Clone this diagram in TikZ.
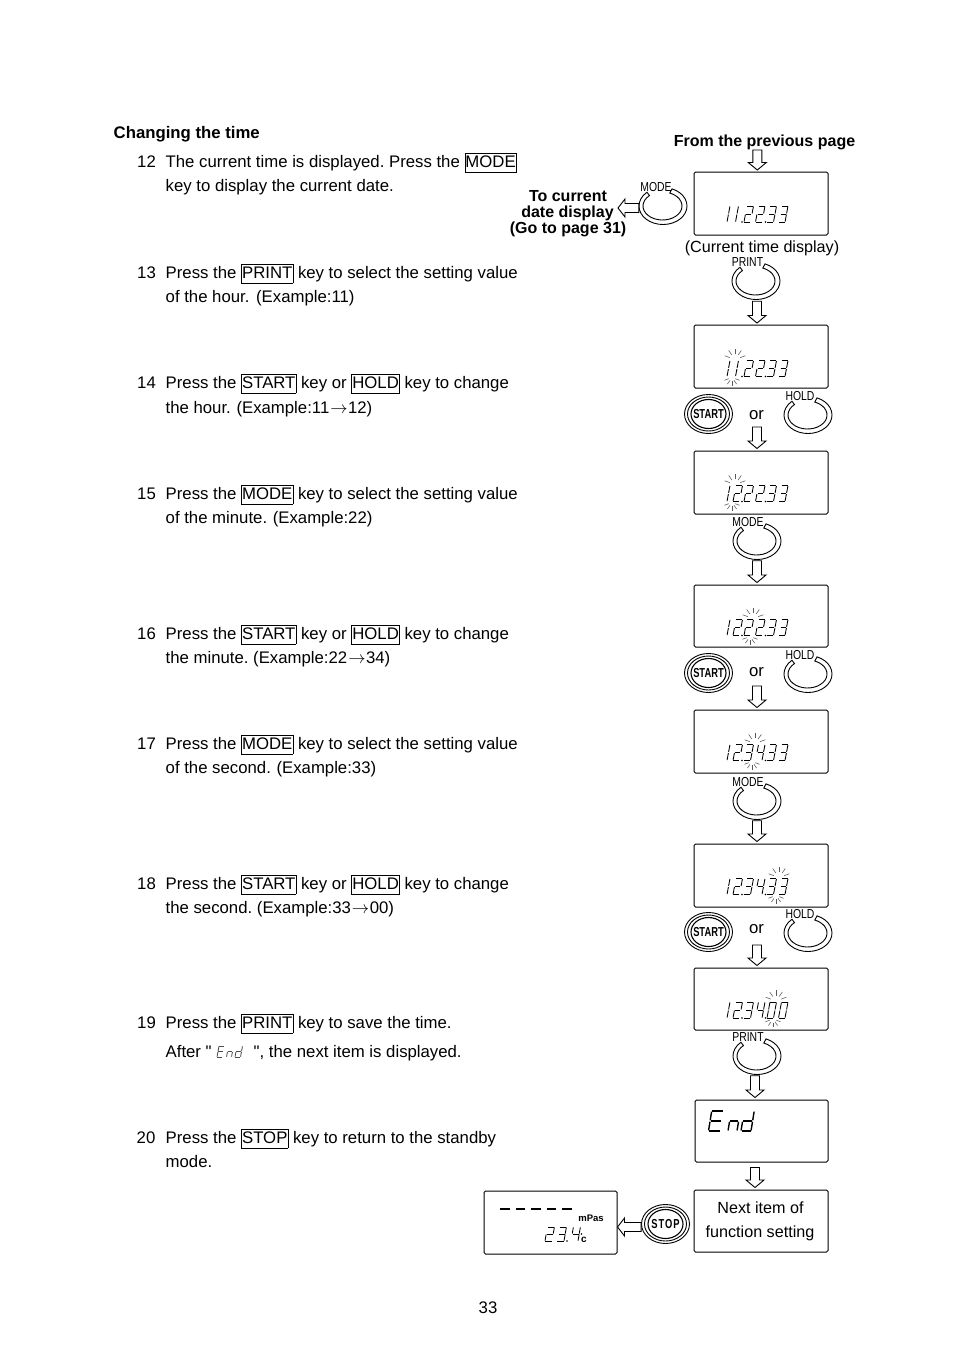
\documentclass[tikz,border=0pt]{standalone}
\usepackage{fontspec}
\setmainfont{Liberation Sans}
\newfontfamily\qfont{Liberation Sans}
\usetikzlibrary{calc,shapes.geometric}
\newcommand\bodyfont{\fontsize{16.75}{20}\selectfont\frenchspacing}
\newcommand\smallbody{\fontsize{16.15}{20}\selectfont\frenchspacing}
\newcommand\lblfont{\fontsize{16}{18}\selectfont\bfseries\frenchspacing}
\newcommand\keybox[1]{{\setlength\fboxsep{0.2pt}\setlength\fboxrule{0.8pt}\fbox{\rule[-4.5pt]{0pt}{18pt}#1}}}
\newcommand\arr{\kern1pt$\rightarrow$\kern0.5pt}
\def\seglw{0.85pt}
\tikzset{
  line/.style={anchor=base west,inner sep=0pt,font=\bodyfont},
  lbl/.style={anchor=base,inner sep=0pt,font=\lblfont},
  plain/.style={anchor=base,inner sep=0pt,font=\bodyfont},
  plainsmall/.style={anchor=base,inner sep=0pt,font=\smallbody},
  panel/.style={draw,line width=1pt,rounded corners=1.5pt,fill=white,anchor=north west,inner sep=0pt},
  block/.style={draw,line width=0.9pt,fill=white,line join=miter},
  ringband/.style={draw,line width=0.9pt,fill=white},
  seg/.style={line width=\seglw},
  ray/.style={line width=0.55pt,black!65},
  keylabel/.style={inner sep=0pt,font=\fontsize{13}{14}\selectfont},
}
% seven-segment parts
\def\sa{\draw[seg] (0.05,2)--(0.95,2);}
\def\sb{\draw[seg] (1,1.94)--(1,1.07);}
\def\sc{\draw[seg] (1,0.93)--(1,0.06);}
\def\sd{\draw[seg] (0.05,0)--(0.95,0);}
\def\se{\draw[seg] (0,0.06)--(0,0.93);}
\def\sf{\draw[seg] (0,1.07)--(0,1.94);}
\def\sg{\draw[seg] (0.08,1)--(0.92,1);}
\expandafter\def\csname dig0\endcsname{\sa\sb\sc\sd\se\sf}
\expandafter\def\csname dig1\endcsname{\sb\sc}
\expandafter\def\csname dig2\endcsname{\sa\sb\sg\se\sd}
\expandafter\def\csname dig3\endcsname{\sa\sb\sg\sc\sd}
\expandafter\def\csname dig4\endcsname{\sf\sg\sb\sc}
\expandafter\def\csname digE\endcsname{\sa\sf\sg\se\sd}
\expandafter\def\csname dign\endcsname{\se\sg\sc}
\expandafter\def\csname digd\endcsname{\sb\sc\sd\se\sg}
% \glyph{x}{baseline}{width}{half height}{slant per half}{char}
\newcommand\glyph[6]{\begin{scope}[shift={(#1,-#2)},x={(#3pt,0pt)},y={(#5pt,#4pt)}]\csname dig#6\endcsname\end{scope}}
\newcommand\dotat[2]{\fill (#1,-#2) circle[radius=0.8];}
\newcommand\cg[3]{\glyph{#1}{#2}{6.5}{8}{1.5}{#3}}
% clock readout: baseline, x of 2nd digit, six chars
\newcommand\clock[8]{%
  \cg{720.5}{#1}{#3}\cg{#2}{#1}{#4}\dotat{742}{#1}%
  \cg{744}{#1}{#5}\cg{755.5}{#1}{#6}\dotat{765.5}{#1}%
  \cg{767}{#1}{#7}\cg{778.5}{#1}{#8}}
\newcommand\blink[3]{%
  \begin{scope}[shift={(#1,-#3+17)}]
    \foreach \t in {20,55,90,125,160}{\draw[ray] (\t:5.5)--(\t:11);}
  \end{scope}
  \begin{scope}[shift={(#2,-#3-1)}]
    \foreach \t in {200,235,270,305,340}{\draw[ray] (\t:3.5)--(\t:8);}
  \end{scope}}
% hollow arrows: \vblock{from}{to}{x}{gap from}{gap to}
\newcommand\vblock[5]{%
  \coordinate (tA) at ($(#3,0 |- #1)+(0,-#4)$);
  \coordinate (tB) at ($(#3,0 |- #2)+(0,#5)$);
  \draw[block] ($(tA)+(-4.5,0)$) -- ($(tB)+(-4.5,7.5)$) -- ($(tB)+(-9,7.5)$) -- (tB) -- ($(tB)+(9,7.5)$) -- ($(tB)+(4.5,7.5)$) -- ($(tA)+(4.5,0)$) -- cycle;}
\newcommand\hblock[3]{%
  \coordinate (tA) at (#1 |- 0,-#3);
  \coordinate (tB) at (#2 |- 0,-#3);
  \draw[block] ($(tA)+(0,4.5)$) -- ($(tB)+(7,4.5)$) -- ($(tB)+(7,9)$) -- (tB) -- ($(tB)+(7,-9)$) -- ($(tB)+(7,-4.5)$) -- ($(tA)+(0,-4.5)$) -- cycle;}
% press key ring: name, x, y, label, label dx
\newcommand\pressring[5]{%
  \node[ellipse,minimum width=48pt,minimum height=37pt,inner sep=0pt] (#1) at (#2,-#3) {};
  \draw[ringband] ($(#1.center)+(68:24 and 18.5)$) arc[start angle=68,end angle=-228,x radius=24,y radius=18.5]
     -- ($(#1.center)+(-0.5,0)+(-228:19.5 and 14)$) arc[start angle=-228,end angle=68,x radius=19.5,y radius=14] -- cycle;
  \node[keylabel,xscale=0.8] (#1l) at (#2-#5,-#3+18.5) {#4};}
% solid key: name, x, y, label, extra font setting, xscale
\newcommand\solidkey[6]{%
  \node[ellipse,draw,line width=0.9pt,minimum width=48pt,minimum height=39pt,inner sep=0pt] (#1) at (#2,-#3) {};
  \node[ellipse,draw,line width=0.9pt,minimum width=42pt,minimum height=34pt,inner sep=0pt] (#1m) at (#2,-#3) {};
  \node[ellipse,draw,line width=1.1pt,minimum width=35pt,minimum height=29pt,inner sep=0pt] (#1i) at (#2,-#3) {};
  \node[inner sep=0pt,xscale=#6,font=\fontsize{13}{15}\selectfont\bfseries#5] (#1t) at (#2,-#3) {#4};}
\begin{document}
\begin{tikzpicture}[x=1pt,y=1pt]
\useasboundingbox (0,0) rectangle (954,-1350);
\fill[white] (0,0) rectangle (954,-1350);

% left column text
\node[line,font=\bodyfont\bfseries] (head) at (113.5,-138) {Changing the time};
\node[line] (n12) at (137,-167) {12};
\node[line] (s12a) at (165.5,-167) {The current time is displayed. Press the \keybox{MODE}};
\node[line] (s12b) at (165.5,-191) {key to display the current date.};
\node[line] (n13) at (137,-278) {13};
\node[line] (s13a) at (165.5,-278) {Press the \keybox{PRINT} key to select the setting value};
\node[line] (s13b) at (165.5,-302) {of the hour.\kern2pt{} (Example:11)};
\node[line] (n14) at (137,-388) {14};
\node[line] (s14a) at (165.5,-388) {Press the \keybox{START} key or \keybox{HOLD} key to change};
\node[line] (s14b) at (165.5,-413) {the hour.\kern1pt{} (Example:11\arr12)};
\node[line] (n15) at (137,-499) {15};
\node[line] (s15a) at (165.5,-499) {Press the \keybox{MODE} key to select the setting value};
\node[line] (s15b) at (165.5,-523) {of the minute.\kern1pt{} (Example:22)};
\node[line] (n16) at (137,-639) {16};
\node[line] (s16a) at (165.5,-639) {Press the \keybox{START} key or \keybox{HOLD} key to change};
\node[line] (s16b) at (165.5,-663) {the minute. (Example:22\arr34)};
\node[line] (n17) at (137,-749) {17};
\node[line] (s17a) at (165.5,-749) {Press the \keybox{MODE} key to select the setting value};
\node[line] (s17b) at (165.5,-773) {of the second.\kern1pt{} (Example:33)};
\node[line] (n18) at (137,-889) {18};
\node[line] (s18a) at (165.5,-889) {Press the \keybox{START} key or \keybox{HOLD} key to change};
\node[line] (s18b) at (165.5,-913) {the second. (Example:33\arr00)};
\node[line] (n19) at (137,-1028) {19};
\node[line] (s19a) at (165.5,-1028) {Press the \keybox{PRINT} key to save the time.};
\node[line] (s19b) at (165.5,-1057) {After {\qfont "}};
\node[line] (s19c) at (253.5,-1057) {{\qfont "}, the next item is displayed.};
\begin{scope}[black!70]
\glyph{217}{1057}{5.5}{5.5}{1}{E}\glyph{226.5}{1057}{5}{5.5}{1}{n}\glyph{235}{1057}{5.5}{5.5}{1}{d}
\end{scope}
\node[line] (n20) at (136.5,-1143) {20};
\node[line] (s20a) at (165.5,-1143) {Press the \keybox{STOP} key to return to the standby};
\node[line] (s20b) at (165.5,-1167) {mode.};
\node[plain] (page) at (488,-1313) {33};

% right column labels
\node[lbl] (from) at (764.5,-146) {From the previous page};
\node[lbl] (go1) at (568,-201) {To current};
\node[lbl] (go2) at (567.5,-217) {date display};
\node[lbl] (go3) at (568,-233) {(Go to page 31)};
\node[plainsmall] (cur) at (762,-252) {(Current time display)};

% panels
\node[panel,minimum width=134pt,minimum height=63pt] (d1) at (693.5,-171.5) {};
\node[panel,minimum width=134pt,minimum height=63pt] (d2) at (693.5,-324.5) {};
\node[panel,minimum width=134pt,minimum height=63pt] (d3) at (693.5,-450.5) {};
\node[panel,minimum width=134pt,minimum height=62pt] (d4) at (693.5,-584.5) {};
\node[panel,minimum width=134pt,minimum height=63pt] (d5) at (693.5,-709.5) {};
\node[panel,minimum width=134pt,minimum height=63pt] (d6) at (693.5,-843.5) {};
\node[panel,minimum width=134pt,minimum height=62pt] (d7) at (693.5,-967.5) {};
\node[panel,minimum width=133pt,minimum height=62pt] (d8) at (694.5,-1099.5) {};
\node[panel,minimum width=134pt,minimum height=62pt] (d9) at (693.5,-1189.5) {};
\node[panel,minimum width=133pt,minimum height=63pt] (d10) at (483.5,-1190.5) {};
\node[plainsmall] (next1) at (760.5,-1213) {Next item of};
\node[plainsmall] (next2) at (760,-1237) {function setting};

% readouts
\clock{222}{729}{1}{1}{2}{2}{3}{3}
\clock{376.5}{729}{1}{1}{2}{2}{3}{3}
\clock{501.5}{733}{1}{2}{2}{2}{3}{3}
\clock{635.5}{733}{1}{2}{2}{2}{3}{3}
\clock{760.5}{733}{1}{2}{3}{4}{3}{3}
\clock{894.5}{733}{1}{2}{3}{4}{3}{3}
\clock{1018}{733}{1}{2}{3}{4}{0}{0}
\blink{735}{732}{376.5}
\blink{735}{732}{501.5}
\blink{753}{750}{635.5}
\blink{755}{752}{760.5}
\blink{779}{776}{894.5}
\blink{776}{773}{1018}
\begingroup\def\seglw{1.4pt}
\glyph{708.5}{1131}{12}{10}{1.6}{E}\glyph{728}{1131}{9}{10}{1.6}{n}\glyph{741}{1131}{10}{10}{1.6}{d}
\endgroup
\foreach \x in {500,515.5,531,546.5,562}{\draw[line width=1.6pt] (\x,-1209)--++(9.5,0);}
\node[inner sep=0pt,font=\fontsize{9.5}{11}\selectfont\bfseries] (unit1) at (591,-1218) {mPas};
\node[inner sep=0pt,font=\fontsize{10}{11}\selectfont\bfseries] (unit2) at (584,-1240) {c};
\glyph{545}{1241}{7}{7}{1.2}{2}\glyph{557}{1241}{7}{7}{1.2}{3}\dotat{567}{1241}\glyph{571}{1241}{7}{7}{1.2}{4}\dotat{581.5}{1234}

% keys
\pressring{k1}{663}{206}{MODE}{7}
\pressring{k2}{756}{281}{PRINT}{8.5}
\solidkey{k3}{708.5}{414}{START}{}{0.72}
\pressring{k4}{808}{415}{HOLD}{8}
\pressring{k5}{757}{541}{MODE}{9}
\solidkey{k6}{708.5}{673}{START}{}{0.72}
\pressring{k7}{808}{674}{HOLD}{8}
\pressring{k8}{757}{801}{MODE}{9}
\solidkey{k9}{708.5}{932}{START}{}{0.72}
\pressring{k10}{808}{933}{HOLD}{8}
\pressring{k11}{757}{1056}{PRINT}{9}
\solidkey{k12}{665.5}{1224}{STOP}{\addfontfeature{LetterSpace=10}}{0.72}
\node[plain] (or1) at (756.5,-419) {or};
\node[plain] (or2) at (756.5,-676) {or};
\node[plain] (or3) at (756.5,-933) {or};

% hollow arrows
\coordinate (gotip) at (618,-208);
\vblock{from.base}{d1.north}{757.3}{4}{1.5}
\vblock{k2.south}{d2.north}{757}{1.5}{1.5}
\coordinate (a3) at (757,-427);
\vblock{a3}{d3.north}{757}{0}{2}
\vblock{k5.south}{d4.north}{757}{1}{2}
\coordinate (a5) at (757,-686);
\vblock{a5}{d5.north}{757}{0}{2}
\vblock{k8.south}{d6.north}{757}{1}{2}
\coordinate (a7) at (757,-945);
\vblock{a7}{d7.north}{757}{0}{2}
\vblock{k11.south}{d8.north}{755}{1}{2}
\vblock{d8.south}{d9.north}{755}{5}{2}
\hblock{k1.west}{gotip}{208}
\hblock{k12.west}{d10.east}{1227}
\end{tikzpicture}
\end{document}
